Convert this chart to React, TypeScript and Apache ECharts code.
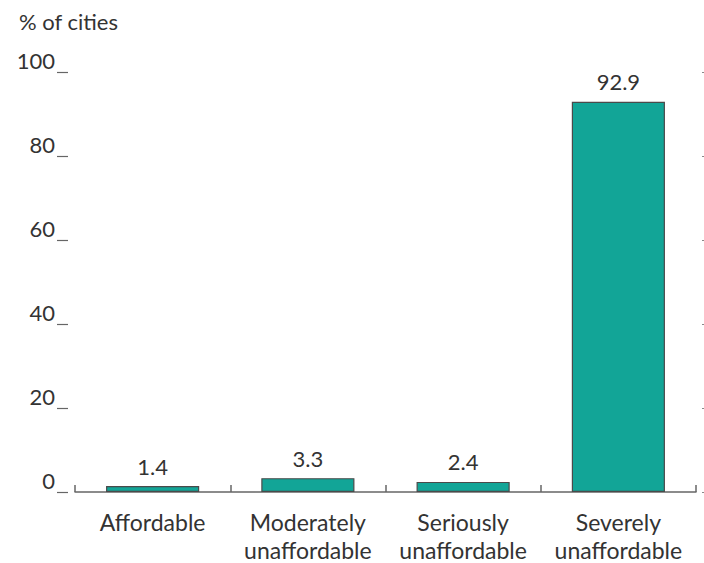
import React, { useEffect, useRef } from "react";
import * as echarts from "echarts";

const categories = ["Affordable", "Moderately\nunaffordable", "Seriously\nunaffordable", "Severely\nunaffordable"];
const values = [1.4, 3.3, 2.4, 92.9];
const yTicks = [0, 20, 40, 60, 80, 100];
const yTitle = "% of cities";

export default function App() {
  const ref = useRef<HTMLDivElement>(null);
  useEffect(() => {
    document.body.style.margin = "0";
    const chart = echarts.init(ref.current!, null, { renderer: "svg" });
    const font = "Lato, 'Open Sans', sans-serif";
    chart.setOption({
      animation: false,
      textStyle: { fontFamily: font },
      title: {
        text: yTitle,
        left: 14,
        top: 5,
        textStyle: { fontFamily: font, fontSize: 22, fontWeight: "normal", color: "#333" },
      },
      grid: { left: 75, right: 8, top: 72, bottom: 71, containLabel: false, outerBoundsMode: "none" },
      xAxis: {
        type: "category",
        data: categories,
        axisLine: { show: true, lineStyle: { color: "#666", width: 1.5 } },
        axisTick: { show: true, inside: true, length: 7, lineStyle: { color: "#666", width: 1.5 } },
        axisLabel: {
          interval: 0,
          hideOverlap: false,
          fontFamily: font,
          fontSize: 23,
          color: "#333",
          lineHeight: 28,
          margin: 16,
        },
      },
      yAxis: [
        {
          type: "value",
          min: yTicks[0],
          max: yTicks[yTicks.length - 1],
          interval: 20,
          offset: 7,
          splitLine: { show: false },
          axisLine: { show: false },
          axisTick: { show: true, length: 11, lineStyle: { color: "#666", width: 1.2 } },
          axisLabel: {
            fontFamily: font,
            fontSize: 22,
            color: "#333",
            margin: 13,
            verticalAlign: "bottom",
            lineHeight: 24,
          },
        },
        {
          type: "value",
          position: "right",
          min: yTicks[0],
          max: yTicks[yTicks.length - 1],
          interval: 20,
          offset: 6,
          splitLine: { show: false },
          axisLine: { show: false },
          axisTick: { show: true, length: 3, lineStyle: { color: "#888", width: 1.2 } },
          axisLabel: { show: false },
        },
      ],
      series: [
        {
          type: "bar",
          data: values,
          barWidth: "60%",
          itemStyle: { color: "#12a597", borderColor: "#4a4a4a", borderWidth: 1.2 },
          label: {
            show: true,
            position: "top",
            distance: 9,
            fontFamily: font,
            fontSize: 22,
            color: "#333",
            formatter: (p: any) => p.value.toFixed(1),
          },
        },
      ],
    });
    return () => chart.dispose();
  }, []);
  return <div ref={ref} style={{ width: 704, height: 563 }} />;
}
